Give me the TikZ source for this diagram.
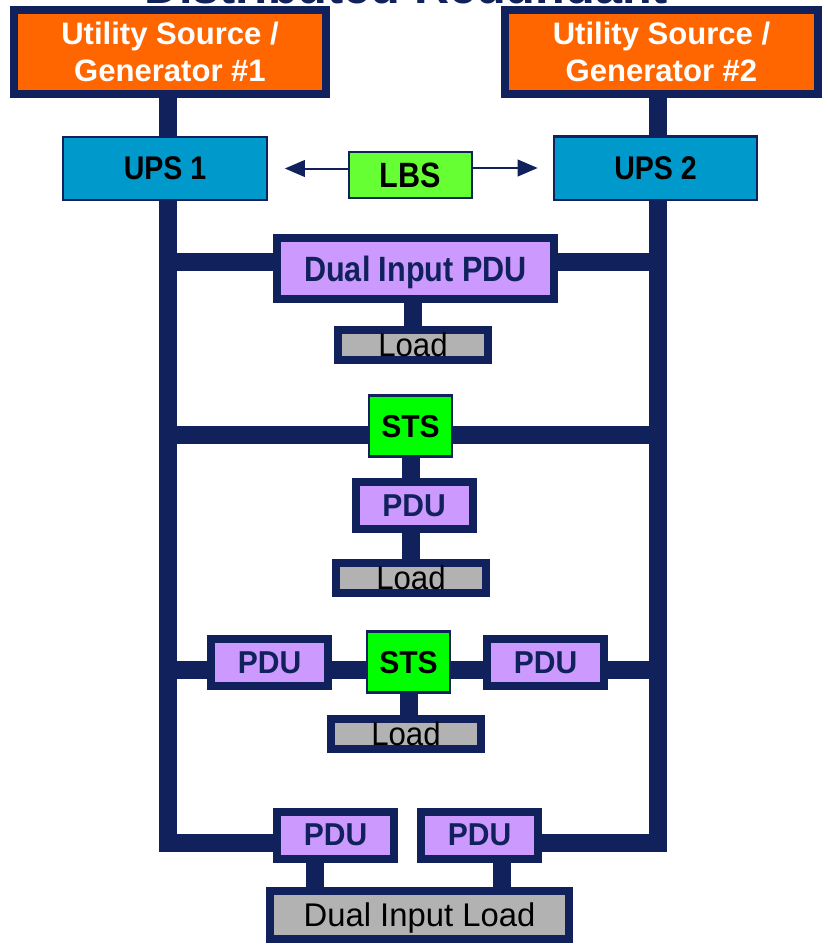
\documentclass[tikz,border=0pt]{standalone}
\usepackage{fontspec}
\setmainfont{Liberation Sans}
\newfontfamily\narrowsf[FakeStretch=0.87]{Liberation Sans}
\newfontfamily\slimsf[FakeStretch=0.95]{Liberation Sans}
\usetikzlibrary{arrows.meta,backgrounds}
\definecolor{navy}{RGB}{17,33,91}
\definecolor{genorange}{RGB}{255,102,0}
\definecolor{upsblue}{RGB}{0,153,204}
\definecolor{lbsgreen}{RGB}{102,255,51}
\definecolor{stsgreen}{RGB}{0,255,0}
\definecolor{pduviolet}{RGB}{204,153,255}
\definecolor{loadgray}{RGB}{178,178,178}

\begin{document}
\begin{tikzpicture}[x=0.03cm, y=-0.03cm,
  box/.style={draw=navy, line width=0.24cm, inner sep=0pt, text depth=0pt, align=center},
  thinbox/.style={draw=navy, line width=0.07cm, inner sep=0pt, text depth=0pt},
  gen/.style={box, fill=genorange, text=white, minimum width=9.36cm, minimum height=2.52cm, font=\bfseries\fontsize{26.5}{31.5}\selectfont},
  ups/.style={thinbox, fill=upsblue, minimum width=6.1cm, minimum height=1.9cm, font=\narrowsf\bfseries\fontsize{28}{32}\selectfont},
  lbs/.style={thinbox, fill=lbsgreen, minimum width=3.69cm, minimum height=1.38cm, font=\narrowsf\bfseries\fontsize{30}{34}\selectfont},
  sts/.style={thinbox, fill=stsgreen, minimum width=2.49cm, minimum height=1.83cm, font=\slimsf\bfseries\fontsize{27}{30}\selectfont},
  pdu/.style={box, fill=pduviolet, text=navy, minimum width=3.51cm, minimum height=1.41cm, font=\slimsf\bfseries\fontsize{27}{30}\selectfont},
  load/.style={box, fill=loadgray, minimum width=4.5cm, minimum height=0.9cm, font=\slimsf\fontsize{28}{30}\selectfont},
  bus/.style={draw=navy, line width=0.54cm},
  lbsarrow/.style={draw=navy, line width=0.06cm, -{Triangle[length=0.6cm,width=0.5cm]}}]
\useasboundingbox (0,0) rectangle (827,945);
\node[anchor=base, text=navy, font=\bfseries\fontsize{41.5}{46}\selectfont] (title) at (406,3.5) {Distributed Redundant};
\node[gen] (gen1) at (170,51.5) {Utility Source /\\Generator \#1};
\node[gen] (gen2) at (661.5,51.5) {Utility Source /\\Generator \#2};
\node[ups] (ups1) at (165,168.5) {UPS 1};
\node[ups] (ups2) at (655.5,168) {UPS 2};
\node[lbs] (lbs) at (410.5,175) {LBS};
\node[pdu, minimum width=8.31cm, minimum height=1.83cm, font=\narrowsf\bfseries\fontsize{30}{34}\selectfont] (dipdu) at (415.5,268.5) {Dual Input PDU};
\node[load] (load1) at (413,344.5) {Load};
\node[sts] (sts1) at (410.5,426) {STS};
\node[pdu] (pdu1) at (414,505.5) {PDU};
\node[load] (load2) at (411,577.5) {Load};
\node[pdu] (pduL) at (269.5,662.5) {PDU};
\node[sts] (sts2) at (408.5,662) {STS};
\node[pdu] (pduR) at (545.5,662.5) {PDU};
\node[load] (load3) at (406,734) {Load};
\node[pdu] (pduBL) at (335.5,835) {PDU};
\node[pdu] (pduBR) at (479.5,835) {PDU};
\node[load, minimum width=8.97cm, minimum height=1.44cm, font=\fontsize{28}{32}\selectfont] (dil) at (419.5,915) {Dual Input Load};
\coordinate (railL) at (167.5,843);
\coordinate (railR) at (658,843);
\coordinate (row1) at (0,262);
\coordinate (row2) at (0,435);
\coordinate (row3) at (0,670);
\draw[lbsarrow] (lbs.west |- ups1.east) -- ([xshift=0.51cm]ups1.east);
\draw[lbsarrow] (lbs.east |- ups2.west) -- ([xshift=-0.45cm]ups2.west);
\begin{scope}[on background layer]
\draw[bus] (gen1.south -| railL) -- (ups1.north -| railL);
\draw[bus] (gen2.south -| railR) -- (ups2.north -| railR);
\draw[bus] (ups1.south -| railL) -- (railL) -- (pduBL.west |- railL);
\draw[bus] (ups2.south -| railR) -- (railR) -- (pduBR.east |- railR);
\draw[bus] (railL |- row1) -- (dipdu.west |- row1);
\draw[bus] (dipdu.east |- row1) -- (railR |- row1);
\draw[bus] (load1.north |- dipdu.south) -- (load1.north);
\draw[bus] (railL |- row2) -- (sts1.west |- row2);
\draw[bus] (sts1.east |- row2) -- (railR |- row2);
\draw[bus] (sts1.south) -- (sts1.south |- pdu1.north);
\draw[bus] (load2.north |- pdu1.south) -- (load2.north);
\draw[bus] (railL |- row3) -- (pduL.west |- row3);
\draw[bus] (pduL.east |- row3) -- (sts2.west |- row3);
\draw[bus] (sts2.east |- row3) -- (pduR.west |- row3);
\draw[bus] (pduR.east |- row3) -- (railR |- row3);
\draw[bus] (sts2.south) -- (sts2.south |- load3.north);
\draw[bus] ([xshift=-0.62cm]pduBL.south) -- ([xshift=-0.62cm]pduBL.south |- dil.north);
\draw[bus] ([xshift=0.68cm]pduBR.south) -- ([xshift=0.68cm]pduBR.south |- dil.north);
\end{scope}
\end{tikzpicture}
\end{document}
